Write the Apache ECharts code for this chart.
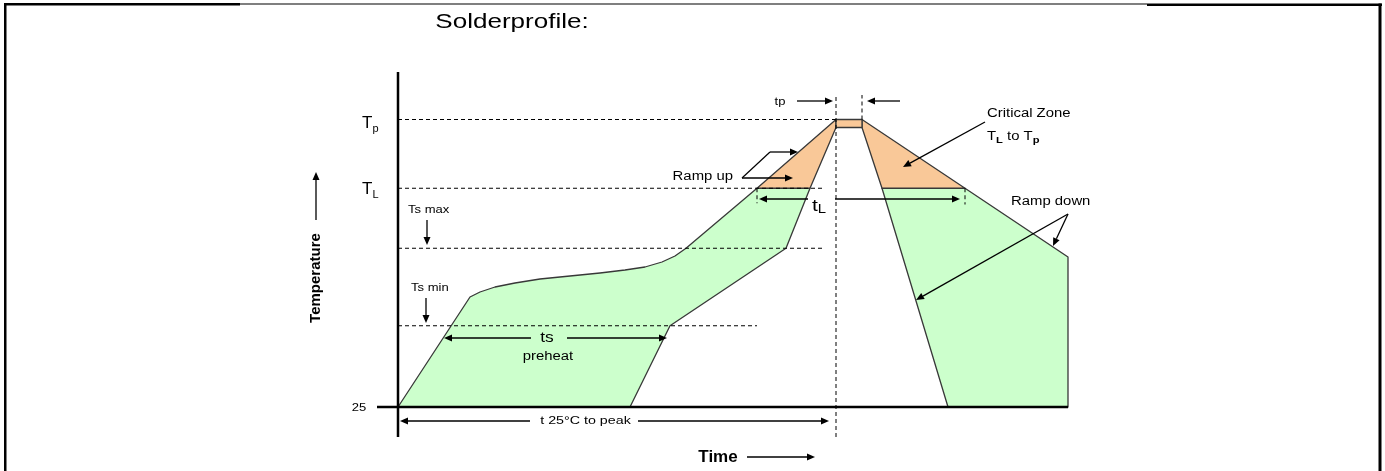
<!DOCTYPE html>
<html>
<head>
<meta charset="utf-8">
<title>Solderprofile</title>
<script src="https://cdn.jsdelivr.net/npm/echarts@6/dist/echarts.min.js"></script>
<style>
  html, body { margin: 0; padding: 0; background: #fff; }
  #chart { width: 1385px; height: 471px; }
</style>
</head>
<body>
<div id="chart"></div>
<script>
// temperature levels on the y axis (schematic, °C)
const levelNames = ['25', 'Ts min', 'Ts max', 'TL', 'Tp']
const levelTemps = [25, 90, 152, 200, 255]

// time marks (s): TL reached, peak start, peak end, back at TL
const timeMarks = [179.5, 219, 232, 283.5]

// profile zones, [time, temperature]
const heatZone = [[0, 25], [36, 113], [41, 117], [48.5, 121], [58.5, 124.2], [71, 127.4],
  [86, 129.8], [101, 132.2], [113.5, 134.6], [123.5, 137], [132, 141], [138.5, 145.8],
  [144, 152], [179.5, 200], [206, 200], [194, 152], [136, 90], [116, 25]]
const rampUpZone = [[179.5, 200], [219, 255], [219, 248.6], [206, 200]]
const peakZone = [[219, 255], [232, 255], [232, 248.6], [219, 248.6]]
const rampDownZone = [[232, 255], [283.5, 200], [242, 200], [232, 248.6]]
const coolZone = [[242, 200], [283.5, 200], [335, 145], [335, 25], [275, 25]]

const FONT = "'Liberation Sans', Arial, sans-serif"
const SX = 1.24 // lettering in the original is stretched sideways

const zones = [heatZone, coolZone, rampUpZone, rampDownZone, peakZone]
const zoneFill = ['#ccffcc', '#ccffcc', '#f9c898', '#f9c898', '#f9c898']

const [tLStart, tpStart, tpEnd, tLEnd] = timeMarks
const [, tsMin, tsMax, TL, Tp] = levelTemps

const guides = [
  [0, Tp, tpStart, Tp],
  [0, TL, 213.5, TL],
  [0, tsMax, 212, tsMax],
  [0, tsMin, tLStart, tsMin],
  [tpStart, 1, tpStart, 274.6],
  [tpEnd, Tp, tpEnd, 274.6],
  [tLStart, TL, tLStart, 188],
  [tLEnd, TL, tLEnd, 187]
]
const axisLines = [
  [0, 1, 0, 293],
  [-10.5, 25, 335, 25]
]
const leaders = [
  [172, 208.2, 186, 229]
]
const arrows = [
  [-41, 174.6, -41, 213],       // temperature
  [174.5, -15, 208.5, -15],     // time
  [14.5, 174.6, 14.5, 154.6],   // Ts max
  [14, 112.2, 14, 92.2],        // Ts min
  [66.5, 80.2, 23, 80.2],       // ts
  [84.5, 80.2, 134.5, 80.2],
  [66, 13.8, 1, 13.8],          // t 25 to peak
  [120, 13.8, 215.5, 13.8],
  [205, 191.4, 180.5, 191.4],   // tL
  [218.5, 191.4, 281, 191.4],
  [199.5, 269.8, 217.5, 269.8], // tp
  [251, 269.8, 234.5, 269.8],
  [186, 229, 200, 229],         // ramp up
  [172, 208.2, 197.5, 208.2],
  [293.5, 253, 252.5, 217],     // critical zone
  [335, 179.4, 327.5, 153.8],   // ramp down
  [335, 179.4, 259, 110.6]
]

const sub = (m, s, lh, bold) => ({
  m: { fontSize: m, fontFamily: FONT, lineHeight: lh },
  s: { fontSize: s, fontFamily: FONT, lineHeight: s + 2, verticalAlign: 'bottom', fontWeight: bold ? 'bold' : 'normal' }
})
const subText = name => '{m|' + name[0] + '}{s|' + name.slice(1) + '}'

const notes = [
  { at: [57, 332.6], text: 'Solderprofile:', size: 21 },
  { at: [-18, 252.2], text: subText(levelNames[4]), rich: sub(17, 11, 23), align: 'left', sx: 1 },
  { at: [-18, 199.4], text: subText(levelNames[3]), rich: sub(17, 11, 23), align: 'left', sx: 1 },
  { at: [-19.5, 24.2], text: levelNames[0], size: 10.5 },
  { at: [5, 182.6], text: levelNames[2], size: 10.5, align: 'left' },
  { at: [6.5, 120.2], text: levelNames[1], size: 10.5, align: 'left' },
  { at: [-41, 128.2], text: 'Temperature', size: 15, bold: true, rotate: Math.PI / 2, sx: 1 },
  { at: [160, -15], text: 'Time', size: 17, bold: true, sx: 1 },
  { at: [74.5, 80.2], text: 'ts', size: 14 },
  { at: [75, 65], text: 'preheat', size: 12 },
  { at: [93.75, 13.8], text: 't 25°C to peak', size: 11.5 },
  { at: [167.5, 209], text: 'Ramp up', size: 12, align: 'right' },
  { at: [191, 269.2], text: 'tp', size: 10.5 },
  { at: [207, 185.8], text: '{m|t}{s|L}', rich: sub(17, 12, 19), align: 'left' },
  { at: [294.5, 259.4], text: 'Critical Zone', size: 12, align: 'left' },
  { at: [294.5, 241.2], text: '{m|T}{s|L}{m| to T}{s|p}', rich: sub(12, 9, 17, true), align: 'left' },
  { at: [306.5, 189], text: 'Ramp down', size: 12, align: 'left' }
]

const segRender = (width, dash) => (params, api) => {
  const a = api.coord([api.value(0), api.value(1)])
  const b = api.coord([api.value(2), api.value(3)])
  return {
    type: 'line',
    shape: { x1: a[0], y1: a[1], x2: b[0], y2: b[1] },
    style: { stroke: '#000', lineWidth: width, lineDash: dash }
  }
}

const chart = echarts.init(document.getElementById('chart'))
chart.setOption({
  animation: false,
  grid: { left: 0, right: 0, top: 0, bottom: 0 },
  xAxis: { type: 'value', min: -199, max: 493.5, show: false },
  yAxis: { type: 'value', min: -26.2, max: 350.6, show: false },
  graphic: [
    { type: 'rect', shape: { x: 4, y: 3, width: 236, height: 2.5 }, style: { fill: '#000' } },
    { type: 'rect', shape: { x: 240, y: 3.5, width: 907, height: 1 }, style: { fill: '#000' } },
    { type: 'rect', shape: { x: 1147, y: 3.5, width: 235, height: 2.5 }, style: { fill: '#000' } },
    { type: 'rect', shape: { x: 4, y: 3, width: 2.5, height: 468 }, style: { fill: '#000' } },
    { type: 'rect', shape: { x: 1378.5, y: 3.5, width: 3, height: 468 }, style: { fill: '#000' } }
  ],
  series: [
    {
      type: 'custom',
      z: 1,
      silent: true,
      data: zones.map((zn, i) => [zn[0][0], zn[0][1], i]),
      renderItem: (params, api) => {
        const i = api.value(2)
        return {
          type: 'polygon',
          shape: { points: zones[i].map(p => api.coord(p)) },
          style: { fill: zoneFill[i], stroke: '#383838', lineWidth: 1.3, lineJoin: 'round' }
        }
      }
    },
    {
      type: 'custom',
      z: 2,
      silent: true,
      data: guides,
      renderItem: segRender(1, [4, 3])
    },
    {
      type: 'custom',
      z: 3,
      silent: true,
      data: axisLines,
      renderItem: segRender(2.5, null)
    },
    {
      type: 'custom',
      z: 3,
      silent: true,
      data: leaders,
      renderItem: segRender(1.2, null)
    },
    {
      type: 'custom',
      z: 4,
      silent: true,
      data: arrows,
      renderItem: (params, api) => {
        const a = api.coord([api.value(0), api.value(1)])
        const b = api.coord([api.value(2), api.value(3)])
        const dx = b[0] - a[0]
        const dy = b[1] - a[1]
        const len = Math.hypot(dx, dy)
        const ux = dx / len
        const uy = dy / len
        const hl = 8
        const hw = 3.5
        const bx = b[0] - ux * hl
        const by = b[1] - uy * hl
        return {
          type: 'group',
          children: [
            { type: 'line', shape: { x1: a[0], y1: a[1], x2: bx, y2: by }, style: { stroke: '#000', lineWidth: 1.3 } },
            {
              type: 'polygon',
              shape: { points: [[b[0], b[1]], [bx - uy * hw, by + ux * hw], [bx + uy * hw, by - ux * hw]] },
              style: { fill: '#000' }
            }
          ]
        }
      }
    },
    {
      type: 'custom',
      z: 5,
      silent: true,
      data: notes.map((n, i) => [n.at[0], n.at[1], i]),
      renderItem: (params, api) => {
        const n = notes[api.value(2)]
        const p = api.coord([api.value(0), api.value(1)])
        return {
          type: 'text',
          x: p[0],
          y: p[1],
          rotation: n.rotate || 0,
          scaleX: n.sx === undefined ? SX : n.sx,
          style: {
            text: n.text,
            rich: n.rich,
            fontSize: n.size || 12,
            fontWeight: n.bold ? 'bold' : 'normal',
            fontFamily: FONT,
            fill: '#000',
            align: n.align || 'center',
            verticalAlign: 'middle'
          }
        }
      }
    }
  ]
})
</script>
</body>
</html>
